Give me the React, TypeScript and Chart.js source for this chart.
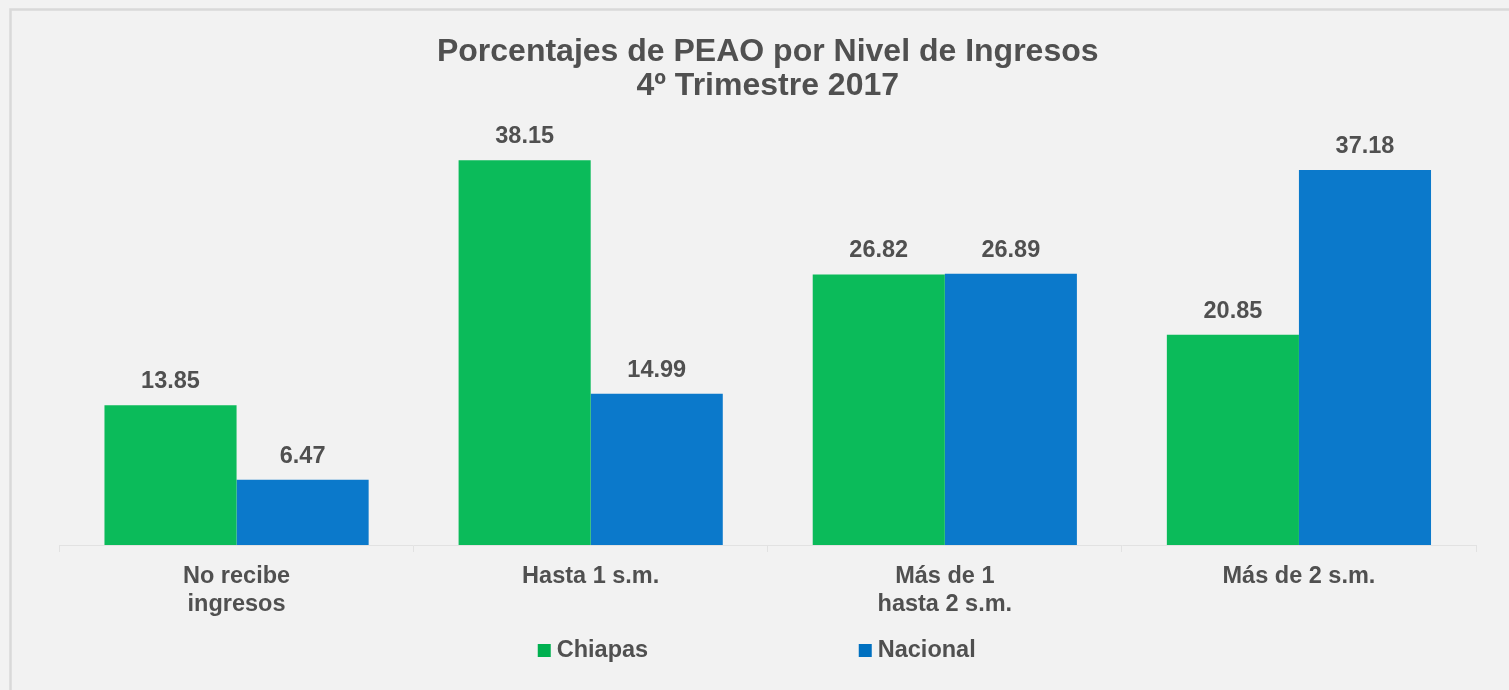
import React, { useEffect, useRef } from 'react';
import { Chart, registerables } from 'chart.js';

Chart.register(...registerables);

const categories: (string | string[])[] = [
  ['No recibe', 'ingresos'],
  'Hasta 1 s.m.',
  ['Más de 1', 'hasta 2 s.m.'],
  'Más de 2 s.m.',
];
const seriesNames = ['Chiapas', 'Nacional'];
const chiapasValues = [13.85, 38.15, 26.82, 20.85];
const nacionalValues = [6.47, 14.99, 26.89, 37.18];
const titleLines = ['Porcentajes de PEAO por Nivel de Ingresos', '4º Trimestre 2017'];

const FONT = "'Liberation Sans', Arial, Helvetica, sans-serif";
const TEXT = '#505050';
const BAR_COLORS = ['#0BBB5A', '#0B79CB'];
const LEGEND_COLORS = ['#00B050', '#0070C0'];

const backgroundPlugin = {
  id: 'bgFrame',
  beforeDraw(chart: any) {
    const { ctx, width, height } = chart;
    ctx.save();
    ctx.fillStyle = '#F2F2F2';
    ctx.fillRect(0, 0, width, height);
    ctx.strokeStyle = '#D9D9D9';
    ctx.lineWidth = 2.5;
    ctx.strokeRect(10.5, 9.5, width + 40, height + 40);
    ctx.restore();
  },
};

const dataLabelPlugin = {
  id: 'dataLabels',
  afterDatasetsDraw(chart: any) {
    const { ctx } = chart;
    ctx.save();
    ctx.font = `bold 23.5px ${FONT}`;
    ctx.fillStyle = TEXT;
    ctx.textAlign = 'center';
    ctx.textBaseline = 'alphabetic';
    chart.data.datasets.forEach((ds: any, i: number) => {
      const meta = chart.getDatasetMeta(i);
      meta.data.forEach((bar: any, j: number) => {
        const v = ds.data[j] as number;
        ctx.fillText(v.toFixed(2), bar.x, bar.y - 17);
      });
    });
    ctx.restore();
  },
};

const legendPlugin = {
  id: 'customLegend',
  afterDraw(chart: any) {
    const { ctx, chartArea } = chart;
    const cx = (chartArea.left + chartArea.right) / 2;
    const starts = [cx - 230, cx + 91];
    const y = 650;
    ctx.save();
    ctx.font = `bold 23.5px ${FONT}`;
    ctx.textBaseline = 'middle';
    ctx.textAlign = 'left';
    chart.data.datasets.forEach((ds: any, i: number) => {
      const x = starts[i];
      ctx.fillStyle = LEGEND_COLORS[i];
      ctx.fillRect(x, y - 6, 13, 13);
      ctx.fillStyle = TEXT;
      ctx.fillText(ds.label, x + 19, y + 1);
    });
    ctx.restore();
  },
};

export default function App() {
  const ref = useRef<HTMLCanvasElement | null>(null);
  useEffect(() => {
    if (!ref.current) return;
    const chart = new Chart(ref.current, {
      type: 'bar',
      data: {
        labels: categories,
        datasets: [
          { label: seriesNames[0], data: chiapasValues, backgroundColor: BAR_COLORS[0], borderWidth: 0 },
          { label: seriesNames[1], data: nacionalValues, backgroundColor: BAR_COLORS[1], borderWidth: 0 },
        ],
      },
      options: {
        responsive: false,
        animation: false,
        devicePixelRatio: 1,
        layout: { padding: { left: 59.5, right: 33, top: 0, bottom: 61 } },
        datasets: { bar: { categoryPercentage: 0.746, barPercentage: 1 } },
        plugins: {
          legend: { display: false },
          tooltip: { enabled: false },
          title: {
            display: true,
            text: titleLines,
            color: TEXT,
            font: { family: FONT, size: 32, weight: 'bold', lineHeight: 1.07 },
            padding: { top: 35, bottom: 38 },
          },
        },
        scales: {
          x: {
            grid: {
              display: true,
              drawOnChartArea: false,
              drawTicks: true,
              tickLength: 7,
              color: '#E2E2E2',
              offset: true,
            },
            border: { display: true, color: '#E2E2E2', width: 1 },
            ticks: {
              color: TEXT,
              padding: 11,
              font: { family: FONT, size: 23.5, weight: 'bold', lineHeight: 1.17 },
              maxRotation: 0,
              autoSkip: false,
            },
          },
          y: {
            display: false,
            min: 0,
            max: 40,
          },
        },
      },
      plugins: [backgroundPlugin, dataLabelPlugin, legendPlugin],
    } as any);
    return () => chart.destroy();
  }, []);
  return (
    <div style={{ position: 'fixed', left: 0, top: 0, width: 1509, height: 690, background: '#F2F2F2' }}>
      <canvas ref={ref} width={1509} height={690} style={{ display: 'block', width: 1509, height: 690 }} />
    </div>
  );
}
